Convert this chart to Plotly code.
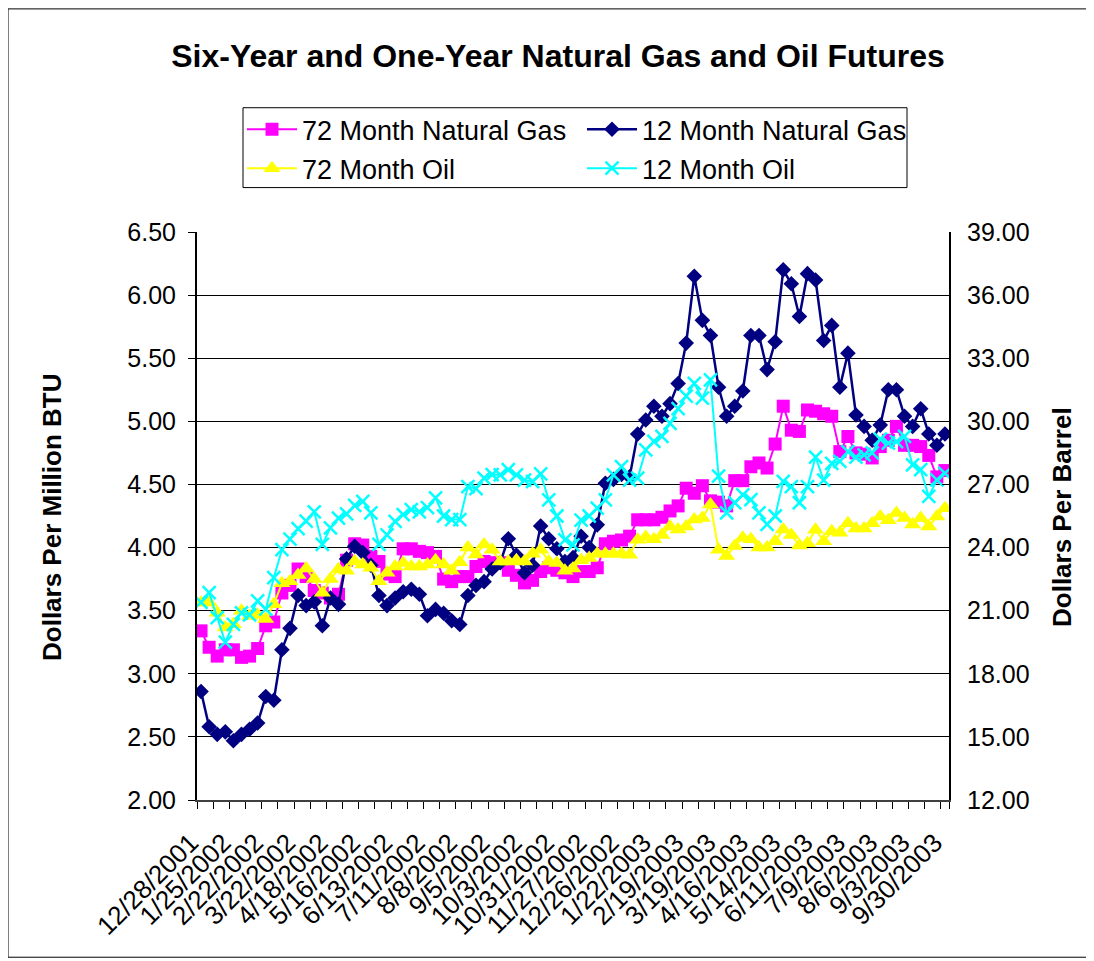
import plotly.graph_objects as go

dates = [
    "12/28/2001", "1/4/2002", "1/11/2002", "1/18/2002",
    "1/25/2002", "2/1/2002", "2/8/2002", "2/15/2002",
    "2/22/2002", "3/1/2002", "3/8/2002", "3/15/2002",
    "3/22/2002", "3/28/2002", "4/5/2002", "4/11/2002",
    "4/18/2002", "4/25/2002", "5/2/2002", "5/9/2002",
    "5/16/2002", "5/23/2002", "5/30/2002", "6/6/2002",
    "6/13/2002", "6/20/2002", "6/27/2002", "7/3/2002",
    "7/11/2002", "7/18/2002", "7/25/2002", "8/1/2002",
    "8/8/2002", "8/15/2002", "8/22/2002", "8/29/2002",
    "9/5/2002", "9/12/2002", "9/19/2002", "9/26/2002",
    "10/3/2002", "10/10/2002", "10/17/2002", "10/24/2002",
    "10/31/2002", "11/7/2002", "11/14/2002", "11/21/2002",
    "11/27/2002", "12/5/2002", "12/12/2002", "12/19/2002",
    "12/26/2002", "1/2/2003", "1/9/2003", "1/16/2003",
    "1/22/2003", "1/29/2003", "2/5/2003", "2/12/2003",
    "2/19/2003", "2/26/2003", "3/5/2003", "3/12/2003",
    "3/19/2003", "3/26/2003", "4/2/2003", "4/9/2003",
    "4/16/2003", "4/23/2003", "4/30/2003", "5/7/2003",
    "5/14/2003", "5/21/2003", "5/28/2003", "6/4/2003",
    "6/11/2003", "6/18/2003", "6/25/2003", "7/2/2003",
    "7/9/2003", "7/16/2003", "7/23/2003", "7/30/2003",
    "8/6/2003", "8/13/2003", "8/20/2003", "8/27/2003",
    "9/3/2003", "9/10/2003", "9/17/2003", "9/24/2003",
    "9/30/2003",
]

tick_labels = [
    "12/28/2001", "1/25/2002", "2/22/2002", "3/22/2002", "4/18/2002", "5/16/2002",
    "6/13/2002", "7/11/2002", "8/8/2002", "9/5/2002", "10/3/2002", "10/31/2002",
    "11/27/2002", "12/26/2002", "1/22/2003", "2/19/2003", "3/19/2003", "4/16/2003",
    "5/14/2003", "6/11/2003", "7/9/2003", "8/6/2003", "9/3/2003", "9/30/2003",
]

gas_72 = [
    3.34, 3.21, 3.14, 3.19, 3.19, 3.13, 3.14, 3.20, 3.38, 3.41,
    3.64, 3.70, 3.83, 3.77, 3.66, 3.64, 3.60, 3.63, 3.90, 4.03,
    4.02, 3.93, 3.89, 3.79, 3.77, 3.99, 3.99, 3.97, 3.96, 3.93,
    3.75, 3.73, 3.77, 3.77, 3.85, 3.89, 3.88, 3.88, 3.82, 3.78,
    3.72, 3.74, 3.81, 3.84, 3.82, 3.80, 3.77, 3.81, 3.81, 3.84,
    4.03, 4.05, 4.06, 4.09, 4.22, 4.22, 4.22, 4.24, 4.29, 4.33,
    4.47, 4.43, 4.49, 4.37, 4.36, 4.33, 4.53, 4.53, 4.64, 4.67,
    4.63, 4.82, 5.12, 4.93, 4.92, 5.09, 5.08, 5.06, 5.04, 4.76,
    4.88, 4.75, 4.74, 4.71, 4.80, 4.85, 4.96, 4.81, 4.81, 4.80,
    4.73, 4.56, 4.61,
]

gas_12 = [
    2.86, 2.58, 2.52, 2.54, 2.47, 2.52, 2.56, 2.61, 2.82, 2.79,
    3.19, 3.36, 3.62, 3.54, 3.57, 3.38, 3.60, 3.55, 3.91, 4.01,
    3.96, 3.86, 3.62, 3.54, 3.60, 3.65, 3.67, 3.63, 3.46, 3.51,
    3.48, 3.42, 3.39, 3.62, 3.70, 3.73, 3.83, 3.88, 4.07, 3.94,
    3.80, 3.86, 4.17, 4.07, 3.99, 3.89, 3.92, 4.09, 4.00, 4.18,
    4.51, 4.54, 4.58, 4.56, 4.90, 5.01, 5.12, 5.04, 5.14, 5.30,
    5.62, 6.15, 5.80, 5.68, 5.27, 5.04, 5.12, 5.24, 5.68, 5.68,
    5.41, 5.63, 6.20, 6.09, 5.83, 6.17, 6.12, 5.64, 5.76, 5.27,
    5.54, 5.05, 4.96, 4.85, 4.97, 5.25, 5.25, 5.04, 4.96, 5.10,
    4.90, 4.81, 4.90,
]

oil_72 = [
    21.38, 21.40, 20.90, 20.20, 20.35, 21.00, 20.75, 20.80, 20.60, 21.30,
    22.30, 22.40, 22.70, 23.00, 22.50, 21.85, 22.50, 22.97, 22.90, 23.35,
    23.20, 23.04, 22.40, 22.80, 23.10, 23.27, 23.10, 23.10, 23.20, 23.40,
    23.20, 22.90, 23.30, 24.00, 23.67, 24.15, 23.90, 23.34, 23.34, 23.40,
    23.34, 23.70, 23.90, 23.34, 23.26, 22.90, 23.00, 23.40, 23.50, 23.70,
    23.70, 23.70, 23.70, 23.66, 24.37, 24.50, 24.39, 24.60, 25.00, 24.86,
    25.00, 25.33, 25.40, 26.05, 23.90, 23.60, 24.07, 24.47, 24.39, 24.00,
    24.00, 24.30, 24.86, 24.60, 24.10, 24.20, 24.85, 24.30, 24.77, 24.70,
    25.16, 24.90, 24.90, 25.16, 25.48, 25.30, 25.64, 25.40, 25.10, 25.40,
    25.00, 25.48, 25.87,
]

oil_12 = [
    21.40, 21.86, 20.67, 19.50, 20.35, 20.90, 20.80, 21.46, 21.07, 22.57,
    23.90, 24.40, 24.90, 25.26, 25.70, 24.15, 24.94, 25.40, 25.60, 26.00,
    26.20, 25.65, 24.15, 24.60, 25.25, 25.57, 25.80, 25.70, 25.90, 26.36,
    25.50, 25.33, 25.33, 26.90, 26.80, 27.30, 27.47, 27.46, 27.70, 27.46,
    27.20, 27.14, 27.50, 26.27, 25.50, 24.37, 24.13, 25.30, 25.50, 25.87,
    26.27, 27.46, 27.85, 27.20, 27.30, 28.64, 29.05, 29.29, 29.90, 30.60,
    31.20, 31.80, 31.10, 31.97, 27.40, 25.65, 26.13, 26.50, 26.28, 25.65,
    25.10, 25.50, 27.15, 26.90, 26.13, 26.90, 28.30, 27.20, 28.00, 28.10,
    28.56, 28.30, 28.40, 28.50, 29.15, 28.96, 29.04, 29.28, 27.93, 27.70,
    26.43, 27.22, 27.53,
]

FONT = "Liberation Sans, Arial, sans-serif"

# Page body adds an 8px offset; targets below are in screen pixels.
OFF = 8
W, H = 1094 - OFF, 961 - OFF
L, R, T, B = 197 - OFF, 949 - OFF, 231.5 - OFF, 800.5 - OFF
PW, PH = R - L, B - T


def px(xs):
    return (xs - OFF - L) / PW


def py(ys):
    return (B - (ys - OFF)) / PH


fig = go.Figure()

fig.add_trace(go.Scatter(
    x=dates, y=gas_72, name="72 Month Natural Gas", mode="lines+markers",
    line=dict(color="#FF00FF", width=2),
    marker=dict(symbol="square", size=13, color="#FF00FF"),
    yaxis="y", legend="legend",
))
fig.add_trace(go.Scatter(
    x=dates, y=gas_12, name="12 Month Natural Gas", mode="lines+markers",
    line=dict(color="#000080", width=2.5),
    marker=dict(symbol="diamond", size=12, color="#000080"),
    yaxis="y", legend="legend",
))
fig.add_trace(go.Scatter(
    x=dates, y=oil_72, name="72 Month Oil", mode="lines+markers",
    line=dict(color="#FFFF00", width=2),
    marker=dict(symbol="triangle-up", size=15, color="#FFFF00"),
    yaxis="y2", legend="legend2",
))
fig.add_trace(go.Scatter(
    x=dates, y=oil_12, name="12 Month Oil", mode="lines+markers",
    line=dict(color="#00FFFF", width=2),
    marker=dict(symbol="x-thin", size=13, color="#00FFFF",
                line=dict(color="#00FFFF", width=2.5)),
    yaxis="y2", legend="legend2",
))

tickvals = dates[::2]
# trailing no-break spaces nudge the rotated labels along their baseline
ticktext = [d + "\u00a0\u00a0" if d in tick_labels else "" for d in tickvals]

legend_common = dict(
    orientation="h", xanchor="left", yanchor="middle",
    font=dict(family=FONT, size=27, color="black"),
    itemwidth=50, entrywidth=275, entrywidthmode="pixels",
    bgcolor="rgba(0,0,0,0)", borderwidth=0,
    itemclick=False, itemdoubleclick=False,
)

fig.update_layout(
    width=W, height=H,
    margin=dict(l=L, r=W - R, t=T, b=H - B, pad=0),
    paper_bgcolor="white", plot_bgcolor="white",
    font=dict(family=FONT, color="black"),
    showlegend=True,
    title=dict(
        text="<b>Six-Year and One-Year Natural Gas and Oil Futures</b>",
        x=(558 - OFF) / W, xanchor="center", y=1 - (56 - OFF) / H, yanchor="middle",
        font=dict(family=FONT, size=32, color="black"),
    ),
    legend=dict(x=px(242), y=py(129), **legend_common),
    legend2=dict(x=px(242), y=py(168), **legend_common),
    xaxis=dict(
        type="category", range=[-0.5, len(dates) - 0.5],
        tickmode="array", tickvals=tickvals, ticktext=ticktext,
        tickson="boundaries", ticks="outside", ticklen=7, tickwidth=1,
        tickcolor="black", tickangle=-45, ticklabelstandoff=5,
        tickfont=dict(family=FONT, size=26, color="black"),
        showline=True, linecolor="#404040", linewidth=2,
        showgrid=False, zeroline=False,
    ),
    yaxis=dict(
        range=[2, 6.5], dtick=0.5, tick0=2, tickformat=".2f",
        ticks="outside", ticklen=7, tickcolor="black",
        tickfont=dict(family=FONT, size=25, color="black"),
        ticklabelstandoff=7,
        showline=True, linecolor="black", linewidth=2,
        showgrid=True, gridcolor="black", gridwidth=1, zeroline=False,
    ),
    yaxis2=dict(
        range=[12, 39], dtick=3, tick0=12, tickformat=".2f",
        overlaying="y", side="right",
        ticks="inside", ticklen=7, tickcolor="black",
        tickfont=dict(family=FONT, size=25, color="black"),
        ticklabelstandoff=11,
        showline=True, linecolor="black", linewidth=2,
        showgrid=False, zeroline=False,
    ),
    shapes=[
        dict(type="rect", xref="paper", yref="paper",
             x0=px(243), x1=px(907), y0=py(187), y1=py(107),
             line=dict(color="black", width=1), fillcolor="rgba(0,0,0,0)",
             layer="above"),
        dict(type="rect", xref="paper", yref="paper",
             x0=px(8), x1=px(1089), y0=py(958), y1=py(8),
             line=dict(color="black", width=1), fillcolor="rgba(0,0,0,0)",
             layer="below"),
    ],
    annotations=[
        dict(text="<b>Dollars Per Million BTU</b>", xref="paper", yref="paper",
             x=px(52), y=py(517), xanchor="center", yanchor="middle",
             textangle=-90, showarrow=False,
             font=dict(family=FONT, size=26, color="black")),
        dict(text="<b>Dollars Per Barrel</b>", xref="paper", yref="paper",
             x=px(1062), y=py(517), xanchor="center", yanchor="middle",
             textangle=-90, showarrow=False,
             font=dict(family=FONT, size=26, color="black")),
    ],
)

fig.write_html("out.html")
